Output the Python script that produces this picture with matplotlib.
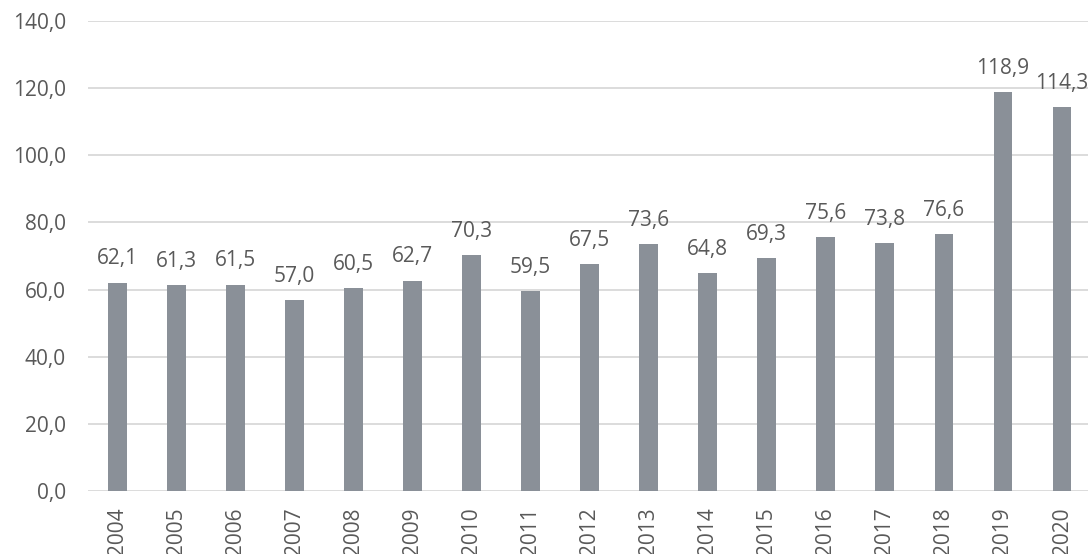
import matplotlib.pyplot as plt

years = ['2004', '2005', '2006', '2007', '2008', '2009', '2010', '2011', '2012',
         '2013', '2014', '2015', '2016', '2017', '2018', '2019', '2020']
values = [62.1, 61.3, 61.5, 57.0, 60.5, 62.7, 70.3, 59.5, 67.5,
          73.6, 64.8, 69.3, 75.6, 73.8, 76.6, 118.9, 114.3]

text_color = '#595959'
bar_color = '#8a9098'

plt.rcParams['font.family'] = ['Open Sans', 'DejaVu Sans']

fig = plt.figure(figsize=(10.88, 5.54), dpi=100)
ax = fig.add_axes([88 / 1088, 1 - 491 / 554, 1 - 88 / 1088, 470 / 554])

x = range(len(years))
ax.bar(x, values, width=0.32, color=bar_color, zorder=2)

for xi, v in zip(x, values):
    ax.annotate(f'{v:.1f}'.replace('.', ','), (xi, v), xytext=(0, 13),
                textcoords='offset points', ha='center', va='baseline',
                fontsize=15, color=text_color)

ax.set_ylim(0, 140)
ax.set_xlim(-0.5, 16.44)
ax.set_yticks(range(0, 141, 20))
ax.set_yticklabels([f'{t},0' for t in range(0, 141, 20)])
ax.set_xticks(list(x))
ax.set_xticklabels(years, rotation=90, va='top')

ax.grid(axis='y', color='#d9d9d9', linewidth=1.3, zorder=0)
for side in ['top', 'right', 'left', 'bottom']:
    ax.spines[side].set_visible(False)
ax.tick_params(axis='both', length=0, labelsize=15, colors=text_color)
ax.tick_params(axis='y', pad=16)
ax.tick_params(axis='x', pad=12)

fig.savefig('out.png', dpi=100)
